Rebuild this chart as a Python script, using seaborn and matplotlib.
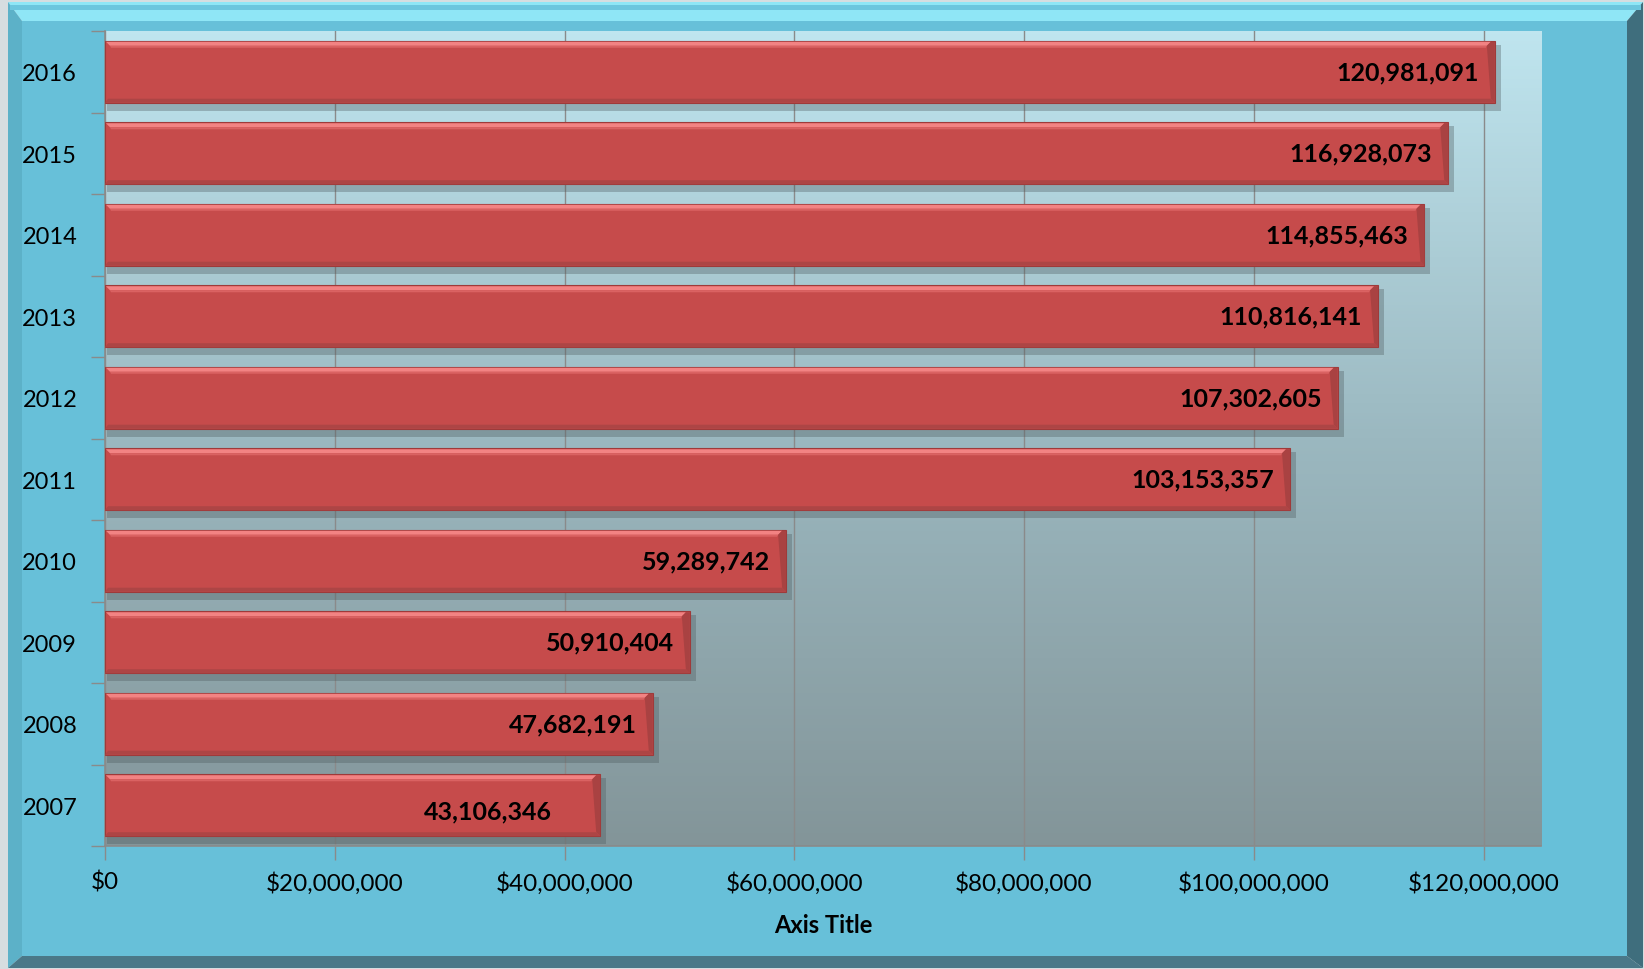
import numpy as np
import pandas as pd
import matplotlib
matplotlib.use('Agg')
import matplotlib.pyplot as plt
from matplotlib.patches import Polygon, Rectangle
from matplotlib.ticker import StrMethodFormatter
import seaborn as sns

# datos del grafico (de arriba hacia abajo)
anios = ['2016', '2015', '2014', '2013', '2012', '2011', '2010', '2009', '2008', '2007']
valores = [120981091, 116928073, 114855463, 110816141, 107302605,
           103153357, 59289742, 50910404, 47682191, 43106346]
ticks_x = [0, 20000000, 40000000, 60000000, 80000000, 100000000, 120000000]
titulo_x = 'Axis Title'

datos = pd.DataFrame({'Anio': anios, 'Valor': valores})

plt.rcParams['font.family'] = ['Lato', 'DejaVu Sans']

W, H = 1644, 970
fig = plt.figure(figsize=(W / 100, H / 100), dpi=100)
fig.patch.set_facecolor('#d6dde0')

# fondo con marco biselado (coordenadas en pixeles)
bg = fig.add_axes([0, 0, 1, 1], zorder=-10)
bg.set_xlim(0, W)
bg.set_ylim(H, 0)
bg.axis('off')
x0, y0, x1, y1 = 8, 3, 1643, 969
a0, b0, a1, b1 = 22, 22, 1627, 957
bg.add_patch(Polygon([(x0, y0), (x1, y0), (a1, b0), (a0, b0)], color='#8fe6f6', lw=0))
bg.add_patch(Polygon([(x0, y0), (a0, b0), (a0, b1), (x0, y1)], color='#5cb1c8', lw=0))
bg.add_patch(Polygon([(x1, y0), (x1, y1), (a1, b1), (a1, b0)], color='#3f6e7d', lw=0))
bg.add_patch(Polygon([(x0, y1), (x1, y1), (a1, b1), (a0, b1)], color='#4a7888', lw=0))
bg.add_patch(Rectangle((a0, b0), a1 - a0, b1 - b0, color='#67c0d9', lw=0))
bg.add_patch(Rectangle((x0 + 2, y0 + 3), x1 - x0 - 4, 5, color='#6cc6de', lw=0))

# area del grafico con degradado
px_l, px_t, px_r, px_b = 105, 32, 1541, 847
t = np.linspace(0, 1, 256)
c_top = np.array([0xbf, 0xe5, 0xef]) / 255
c_mid = np.array([0x9b, 0xb8, 0xc0]) / 255
c_bot = np.array([0x83, 0x95, 0x99]) / 255
img = np.zeros((256, 1, 3))
for k in range(3):
    img[:, 0, k] = np.interp(t, [0, 0.5, 1], [c_top[k], c_mid[k], c_bot[k]])
bg.imshow(img, extent=[px_l, px_r, px_b, px_t], aspect='auto', zorder=1)

ax = fig.add_axes([px_l / W, 1 - px_b / H, (px_r - px_l) / W, (px_b - px_t) / H])
ax.set_facecolor('none')

sns.barplot(data=datos, x='Valor', y='Anio', order=anios, orient='h',
            color='#c64b4b', saturation=1, width=0.76,
            edgecolor='#9e3a3a', linewidth=0.8, ax=ax, zorder=3)

dx = 20000000 / 229.7
dy = 1 / 81.5
barras = list(ax.patches)
for p in barras:
    bx, by, bw, bh = p.get_x(), p.get_y(), p.get_width(), p.get_height()
    # sombra
    ax.add_patch(Rectangle((bx + 2 * dx, by + 4 * dy), bw + 4 * dx, bh + 4 * dy,
                           color='#4d5a5e', alpha=0.35, lw=0, zorder=2))
    # brillo superior
    ax.add_patch(Polygon([(bx + 1 * dx, by + 1 * dy), (bx + bw - 4 * dx, by + 1 * dy),
                          (bx + bw - 8 * dx, by + 5 * dy), (bx + 5 * dx, by + 5 * dy)],
                         color='#f28383', lw=0, zorder=4))
    ax.add_patch(Polygon([(bx + 5 * dx, by + 5 * dy), (bx + bw - 8 * dx, by + 5 * dy),
                          (bx + bw - 9 * dx, by + 7 * dy), (bx + 6 * dx, by + 7 * dy)],
                         color='#da6262', lw=0, zorder=4))
    # borde derecho e inferior mas oscuros
    ax.add_patch(Polygon([(bx + bw - 4 * dx, by + 1 * dy), (bx + bw, by + 1 * dy), (bx + bw, by + bh),
                          (bx + bw - 4 * dx, by + bh - 4 * dy), (bx + bw - 8 * dx, by + 5 * dy)],
                         color='#a94242', lw=0, zorder=4))
    ax.add_patch(Polygon([(bx, by + bh), (bx + bw, by + bh), (bx + bw - 4 * dx, by + bh - 4 * dy),
                          (bx + 3 * dx, by + bh - 4 * dy)],
                         color='#ad4545', lw=0, zorder=4))

# etiquetas de valores
pad_extra = {'2007': 32}
for i, (a, v) in enumerate(zip(anios, valores)):
    pad = (16 + pad_extra.get(a, 0)) * dx
    ax.text(v - pad, i + (6 * dy if a == '2007' else 0), f'{v:,}', ha='right', va='center',
            fontsize=18, fontweight='bold', color='black', zorder=6)

ax.set_xlim(0, 125000000)
ax.set_ylim(9.5, -0.5)
ax.set_xticks(ticks_x)
ax.xaxis.set_major_formatter(StrMethodFormatter('${x:,.0f}'))
ax.set_yticks(np.arange(-0.5, 10, 1), minor=True)

ax.xaxis.grid(True, color='#8a8a8a', linewidth=1)
ax.yaxis.grid(False)
ax.set_axisbelow(True)

for s in ['top', 'right']:
    ax.spines[s].set_visible(False)
for s in ['left', 'bottom']:
    ax.spines[s].set_color('#8a8a8a')
    ax.spines[s].set_linewidth(1.2)

ax.tick_params(axis='x', which='major', length=10, width=1, color='#8a8a8a',
               labelsize=17.5, pad=8, direction='out')
ax.tick_params(axis='y', which='major', length=0, labelsize=17, pad=20)
ax.tick_params(axis='y', which='minor', length=10, width=1, color='#8a8a8a', direction='out')

ax.set_ylabel('')
ax.set_xlabel(titulo_x, fontsize=17, fontweight='bold', labelpad=14)

plt.savefig('out.png', dpi=100)
